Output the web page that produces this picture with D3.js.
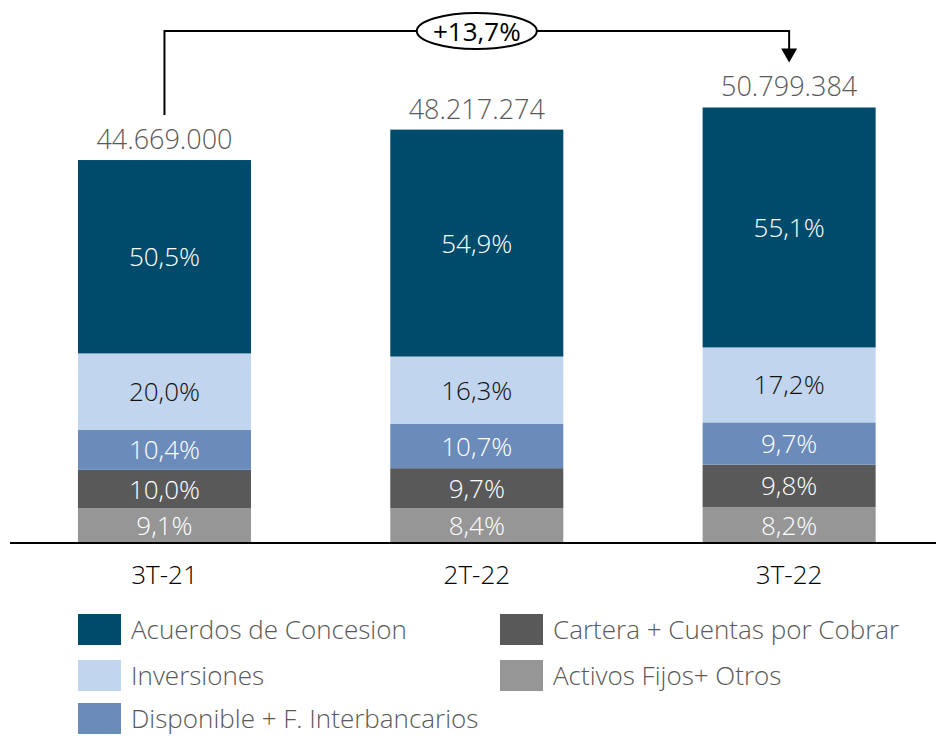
<!DOCTYPE html>
<html>
<head>
<meta charset="utf-8">
<script src="https://cdn.jsdelivr.net/npm/d3@7"></script>
<style>
  html, body { margin: 0; padding: 0; background: #fff; }
  svg { display: block; font-family: "Open Sans", sans-serif; }
</style>
</head>
<body>
<svg id="chart" width="936" height="736"></svg>
<script>
// Periods and total assets
const periods = ["3T-21", "2T-22", "3T-22"];
const totals = [44669000, 48217274, 50799384];
const totalLabels = ["44.669.000", "48.217.274", "50.799.384"];

// Composition of the total (percent), bottom to top
const seriesNames = [
  "Activos Fijos+ Otros",
  "Cartera + Cuentas por Cobrar",
  "Disponible + F. Interbancarios",
  "Inversiones",
  "Acuerdos de Concesion"
];
const activosFijos = [9.1, 8.4, 8.2];
const cartera = [10.0, 9.7, 9.8];
const disponible = [10.4, 10.7, 9.7];
const inversiones = [20.0, 16.3, 17.2];
const acuerdos = [50.5, 54.9, 55.1];
const seriesPct = [activosFijos, cartera, disponible, inversiones, acuerdos];

const seriesColors = ["#969696", "#595959", "#6B8CBA", "#C1D5EE", "#004B6B"];
const labelColors = ["#ffffff", "#ffffff", "#ffffff", "#111111", "#ffffff"];

const growthLabel = "+13,7%";

// Legend order (two columns)
const legendOrder = [
  { name: "Acuerdos de Concesion", col: 0, row: 0 },
  { name: "Inversiones", col: 0, row: 1 },
  { name: "Disponible + F. Interbancarios", col: 0, row: 2 },
  { name: "Cartera + Cuentas por Cobrar", col: 1, row: 0 },
  { name: "Activos Fijos+ Otros", col: 1, row: 1 }
];

const fmtPct = v => v.toFixed(1).replace(".", ",") + "%";

// Rows for the stack: amounts derived from total × share
const rows = periods.map((p, i) => {
  const r = { period: p, total: totals[i] };
  seriesNames.forEach((s, k) => { r[s] = totals[i] * seriesPct[k][i] / 100; });
  return r;
});

const svg = d3.select("#chart");
const baseY = 543;

const x = d3.scaleBand()
  .domain(periods)
  .range([8.3, 945.3])
  .paddingInner(0.446)
  .paddingOuter(0.223);

const y = d3.scaleLinear()
  .domain([0, 60000000])
  .range([baseY, 28.6]);

const stack = d3.stack().keys(seriesNames);
const stacked = stack(rows);

const layers = svg.append("g").selectAll("g")
  .data(stacked)
  .join("g")
  .attr("fill", (d, k) => seriesColors[k]);

layers.selectAll("rect")
  .data(d => d)
  .join("rect")
  .attr("x", d => x(d.data.period))
  .attr("width", x.bandwidth())
  .attr("y", d => y(d[1]))
  .attr("height", d => y(d[0]) - y(d[1]));

// Share labels inside each segment
stacked.forEach((layer, k) => {
  svg.append("g").selectAll("text")
    .data(layer)
    .join("text")
    .attr("x", d => x(d.data.period) + x.bandwidth() / 2)
    .attr("y", d => (y(d[0]) + y(d[1])) / 2 + 9.5)
    .attr("text-anchor", "middle")
    .attr("font-size", 26)
    .attr("font-weight", 300)
    .attr("fill", labelColors[k])
    .text((d, i) => fmtPct(seriesPct[k][i]));
});

// Totals above the bars
svg.append("g").selectAll("text")
  .data(rows)
  .join("text")
  .attr("x", d => x(d.period) + x.bandwidth() / 2)
  .attr("y", d => y(d.total) - 11)
  .attr("text-anchor", "middle")
  .attr("font-size", 27)
  .attr("font-weight", 300)
  .attr("fill", "#595959")
  .text((d, i) => totalLabels[i]);

// Category axis
const axis = svg.append("g")
  .attr("transform", `translate(0,${baseY})`)
  .call(d3.axisBottom(x).tickSize(0).tickPadding(0));
axis.select(".domain").attr("stroke", "#000").attr("stroke-width", 2)
  .attr("d", "M10,0H936");
axis.selectAll(".tick text")
  .attr("font-family", "Open Sans, sans-serif")
  .attr("font-size", 26)
  .attr("font-weight", 300)
  .attr("fill", "#000")
  .attr("dy", 0)
  .attr("y", 41);

// Growth connector between first and last period
const cx0 = x(periods[0]) + x.bandwidth() / 2;
const cx2 = x(periods[2]) + x.bandwidth() / 2;
const cxm = x(periods[1]) + x.bandwidth() / 2;
const lineY = 31;
const startY = y(totals[0]) - 45;
const tipY = y(totals[2]) - 45;

svg.append("path")
  .attr("d", `M${cx0},${startY}V${lineY}H${cx2}V${tipY - 12}`)
  .attr("fill", "none")
  .attr("stroke", "#000")
  .attr("stroke-width", 2);
svg.append("path")
  .attr("d", `M${cx2 - 8},${tipY - 14}L${cx2 + 8},${tipY - 14}L${cx2},${tipY}Z`)
  .attr("fill", "#000");

svg.append("ellipse")
  .attr("cx", cxm)
  .attr("cy", lineY)
  .attr("rx", 60)
  .attr("ry", 18)
  .attr("fill", "#fff")
  .attr("stroke", "#000")
  .attr("stroke-width", 2);
svg.append("text")
  .attr("x", cxm)
  .attr("y", lineY + 9.5)
  .attr("text-anchor", "middle")
  .attr("font-size", 26)
  .attr("font-weight", 400)
  .attr("fill", "#000")
  .text(growthLabel);

// Legend
const legendX = [78, 500];
const legendY = [614, 660, 703];
const legend = svg.append("g").selectAll("g")
  .data(legendOrder)
  .join("g")
  .attr("transform", d => `translate(${legendX[d.col]},${legendY[d.row]})`);
legend.append("rect")
  .attr("width", 43)
  .attr("height", 31)
  .attr("fill", d => seriesColors[seriesNames.indexOf(d.name)]);
legend.append("text")
  .attr("x", 53)
  .attr("y", 25)
  .attr("font-size", 26)
  .attr("font-weight", 300)
  .attr("fill", "#595959")
  .text(d => d.name);
</script>
</body>
</html>
